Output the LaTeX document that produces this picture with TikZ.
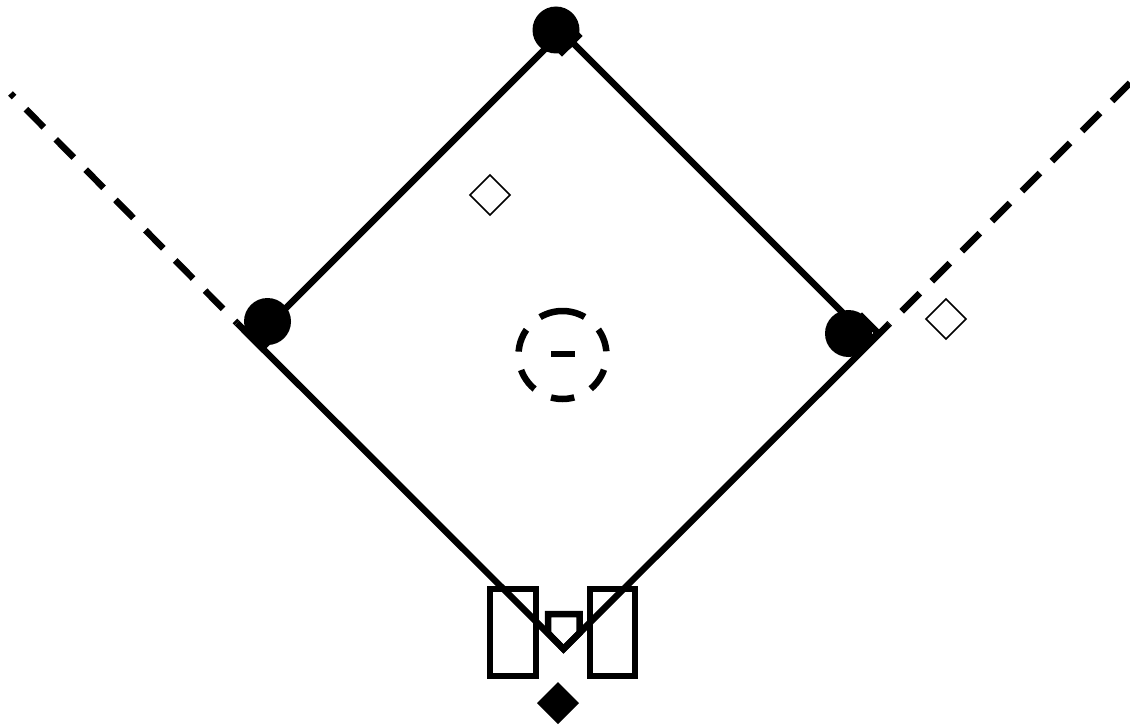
\documentclass[tikz,border=0pt]{standalone}
\begin{document}
\begin{tikzpicture}[x=1pt,y=-1pt,
  heavy/.style={draw=black,line width=6.5pt,miter limit=10},
  foul/.style={heavy,dash pattern=on 25.5pt off 17pt},
  ringdash/.style={heavy,dash pattern=on 23.5pt off 18.7pt},
  bagbox/.style={heavy,fill=white},
  ballmark/.style={draw=black,fill=white,line width=1.5pt},
  player/.style={fill=black}]
\useasboundingbox (0,0) rectangle (1130,725);
\fill[white] (0,0) rectangle (1130,725);
% named points
\coordinate (apex) at (563.5,649);
\coordinate (leftend) at (237,323);
\coordinate (rightend) at (889,324);
\coordinate (second) at (562,32);
\coordinate (first) at (262,332);
\coordinate (third) at (862,332);
\coordinate (leftfar) at (10.5,93.5);
\coordinate (rightfar) at (1130,83);
% foul lines
\draw[foul,dash phase=20.5pt] (leftfar) -- (leftend);
\draw[foul,dash phase=24.5pt] (rightend) -- (rightfar);
% home plate and batter boxes
\draw[heavy] (490,589) rectangle (536,676);
\draw[heavy] (590,589) rectangle (635,676);
\draw[bagbox] (548,614) -- (579.5,614) -- (579.5,633) -- (apex) -- (548,633) -- cycle;
% bases
\draw[bagbox] (562,20) -- (578,36) -- (562,52) -- (546,36) -- cycle;
\draw[bagbox] (262,316) -- (278,332) -- (262,348) -- (246,332) -- cycle;
\draw[bagbox] (862,317) -- (878,333) -- (862,349) -- (846,333) -- cycle;
% base paths
\draw[heavy] (leftend) -- (apex) -- (rightend);
\draw[heavy] (first) -- (second) -- (third);
% fielders
\fill[player] (556,30) circle[radius=23.5];
\fill[player] (267.5,321.5) circle[radius=23.5];
\fill[player] (848.5,333.5) circle[radius=23.5];
% pitcher's circle and rubber
\draw[ringdash] (562.5,311) arc[start angle=-90,end angle=-450,radius=44];
\draw[heavy] (551,354) -- (575,354);
% white ball markers
\draw[ballmark] (490,175) -- (510,195) -- (490,215) -- (470,195) -- cycle;
\draw[ballmark] (946,299) -- (966,319) -- (946,339) -- (926,319) -- cycle;
% black catcher marker
\fill[black] (558,682) -- (579,703) -- (558,724) -- (537,703) -- cycle;
\end{tikzpicture}
\end{document}
